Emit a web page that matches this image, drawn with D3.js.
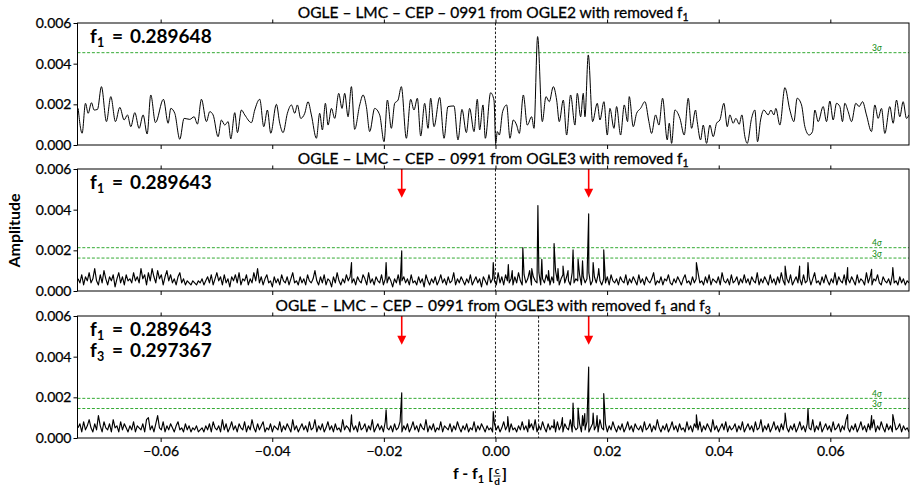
<!DOCTYPE html>
<html><head><meta charset="utf-8">
<script src="https://cdn.jsdelivr.net/npm/d3@7"></script>
<style>body{margin:0;background:#fff} text{font-family:Lato,"DejaVu Sans",sans-serif}</style>
</head><body><svg id="c" width="910" height="488"></svg>
<script>
// ---------------- data ----------------
const xTicks = [-0.06, -0.04, -0.02, 0.00, 0.02, 0.04, 0.06];
const yTicks = [0.000, 0.002, 0.004, 0.006];
const xDomain = [-0.0749, 0.0741];
const yDomain = [0, 0.006];
const titles = [
  ["OGLE \u2013 LMC \u2013 CEP \u2013 0991 from OGLE2 with removed f", "1", ""],
  ["OGLE \u2013 LMC \u2013 CEP \u2013 0991 from OGLE3 with removed f", "1", ""],
  ["OGLE \u2013 LMC \u2013 CEP \u2013 0991 from OGLE3 with removed f", "1", " and f", "3"]
];
const f1Values = [0.289648, 0.289643, 0.289643];
const f3Value = 0.297367;
const sigma3 = [0.00454, 0.00162, 0.00145];
const sigma4 = [null, 0.00213, 0.00195];
const arrowFreqs = [-0.0168, 0.0167];
const arrowTip = 0.00458;

// Panel 1 (OGLE2): frequency offset (x1e-3 c/d) and amplitude (x1e-4)
const ogle2FreqE3 = [-74.78,-74.07,-73.47,-72.99,-72.40,-71.92,-71.32,-70.61,-69.71,-68.93,-68.10,-67.32,-66.54,-65.95,-65.35,-64.63,-63.86,-63.14,-62.42,-61.77,-60.93,-59.50,-58.66,-58.18,-57.47,-56.57,-55.80,-54.78,-54.00,-53.41,-52.69,-51.80,-51.20,-50.60,-49.71,-49.11,-48.51,-47.91,-47.43,-46.72,-46.24,-45.53,-44.93,-43.73,-43.14,-42.24,-41.52,-40.87,-40.27,-39.26,-38.66,-38.06,-37.29,-36.57,-35.97,-35.50,-34.90,-34.18,-33.59,-32.99,-32.09,-31.50,-31.02,-30.48,-30.00,-29.40,-28.81,-28.09,-27.50,-27.02,-26.42,-25.82,-25.23,-24.33,-23.73,-23.14,-22.54,-21.65,-20.75,-19.97,-19.37,-18.66,-18.06,-17.46,-16.87,-15.97,-15.20,-14.60,-14.00,-13.40,-12.69,-12.09,-11.61,-11.02,-10.00,-9.22,-8.51,-7.43,-6.72,-6.00,-5.22,-4.63,-3.85,-3.26,-2.84,-2.24,-1.82,-0.87,-0.27,0.05,0.33,0.69,1.28,2.00,2.60,3.19,3.79,4.27,4.99,5.70,6.48,6.90,7.55,8.39,9.05,9.64,10.36,10.96,11.43,12.15,12.75,13.46,14.24,14.66,15.26,15.73,16.03,16.63,17.40,18.24,18.72,19.43,20.03,20.51,21.23,21.70,22.42,23.08,23.67,23.97,24.69,25.29,26.00,26.78,27.49,27.97,28.69,29.29,29.94,30.78,31.14,31.56,32.15,33.05,33.82,34.54,35.14,35.85,36.15,36.75,37.23,37.82,38.42,39.02,39.62,40.21,40.93,41.53,42.00,42.60,43.08,43.67,44.15,44.69,45.11,45.89,46.48,46.96,47.50,48.09,48.87,49.35,49.89,50.24,50.96,51.86,52.75,53.47,54.06,54.84,55.44,56.21,56.81,57.23,57.83,58.72,59.32,59.92,60.51,61.11,61.71,62.18,62.60,63.20,63.80,64.57,65.17,65.77,66.48,67.38,67.98,68.57,69.17,69.77,70.66,71.26,71.86,72.45,73.05,73.65,74.10];
const ogle2AmpE4 = [18.0,5.8,20.5,15.6,20.8,17.2,17.5,28.7,11.5,23.8,11.5,18.5,12.3,14.8,9.0,15.9,8.2,14.8,5.4,24.6,11.0,22.5,10.7,18.0,15.6,2.8,13.1,12.6,13.9,10.3,22.5,11.5,16.4,14.8,4.1,12.3,9.8,11.5,3.0,15.9,6.1,17.2,14.8,11.0,17.2,22.5,9.0,17.2,5.8,20.0,10.7,6.1,15.6,19.7,15.6,19.7,13.1,15.6,21.3,14.8,3.3,15.6,7.4,20.5,9.8,18.0,13.1,25.4,18.0,25.4,13.9,28.7,7.7,19.7,24.6,18.9,6.6,18.0,14.8,1.6,22.1,8.2,20.5,22.1,28.7,3.3,22.5,17.2,23.0,4.4,20.5,8.2,23.0,9.0,23.4,3.3,18.9,19.2,2.5,17.5,6.1,18.0,6.6,22.5,7.4,19.7,3.3,25.7,22.1,0.8,6.6,4.9,16.4,19.7,3.3,12.3,9.8,5.7,24.6,9.8,13.9,8.2,53.3,11.5,23.8,21.3,28.7,22.1,11.5,22.1,4.9,24.6,9.8,25.4,13.9,25.4,13.9,44.3,11.5,20.5,12.3,21.3,4.9,18.0,8.2,18.9,4.9,19.7,11.5,23.8,9.0,15.6,18.0,21.3,11.5,5.7,14.8,9.8,23.0,2.5,10.7,0.8,17.2,13.1,4.9,23.0,8.2,17.2,11.5,2.5,9.8,0.8,9.8,4.1,10.7,12.3,20.5,9.0,14.8,10.7,13.1,10.2,14.8,4.1,0.8,13.1,17.2,1.6,12.3,17.2,14.8,17.2,14.8,18.0,9.8,28.2,17.2,11.5,23.0,19.7,9.0,4.9,6.6,17.2,11.5,18.9,11.5,21.6,12.3,20.5,18.9,11.5,20.5,16.4,11.5,20.5,18.9,21.3,14.8,6.6,19.7,13.1,18.0,5.7,18.9,10.7,22.1,13.9,21.3,13.1,14.8];

// Panels 2 and 3 (OGLE3): noise amplitudes (x1e-4) on the periodogram's even frequency grid
const gridStart = -0.0748, gridEnd = 0.0741;
const ogle3aNoiseE4 = [
6,4,8,3,7,5,9,4,6,11,5,3,8,4,10,6,3,7,5,8,2,6,9,4,7,3,8,5,6,4,
9,5,7,4,11,6,8,3,9,5,11,7,4,10,6,8,3,7,10,5,8,4,6,3,7,9,4,6,3,5,
4,3,5,4,3,5,4,6,3,5,7,4,8,3,6,9,5,7,3,8,4,6,2,7,5,8,4,9,3,6,
5,8,3,6,4,9,5,11,4,7,3,6,8,4,5,2,7,4,6,3,8,5,4,7,3,6,9,4,5,3,
7,4,6,3,8,5,4,6,10,5,3,7,4,8,3,6,5,2,7,4,9,5,3,6,4,8,5,7,4,6,
3,7,5,4,8,6,3,9,4,6,3,7,5,4,8,3,6,4,7,5,2,6,4,8,3,5,7,4,6,3,
8,4,5,3,7,4,6,2,8,5,3,6,4,7,3,5,8,4,6,3,7,4,5,9,3,6,4,7,5,3,
6,4,8,3,5,7,4,6,2,7,5,3,8,4,6,5,3,9,4,7,3,8,5,4,6,3,7,4,9,5,
3,8,4,6,10,3,7,5,4,9,3,6,4,8,5,3,7,4,10,5,3,6,8,4,7,5,3,9,4,6,
5,8,3,7,4,6,9,3,5,7,4,8,5,3,6,4,7,3,8,5,4,6,3,7,5,4,8,3,6,4,
7,5,3,8,4,6,3,7,5,4,6,9,3,5,4,7,3,6,5,8,4,3,6,4,7,5,3,6,8,4,
5,3,7,4,6,9,4,5,3,7,4,8,3,6,5,4,7,3,9,5,4,6,3,8,4,5,7,3,6,4,
8,4,6,3,7,5,4,9,3,6,4,7,5,3,8,4,6,3,7,4,9,5,3,6,4,8,3,5,7,4,
6,3,8,4,5,7,3,6,9,4,5,3,7,4,8,5,3,6,4,9,3,7,5,4,8,3,6,4,7,5,
3,8,4,6,5,3,9,4,7,3,6,5,8,4,3,7,5,4,6,3,8,4,5,3,7,4,6,3,5,4];
const ogle3aPeakFreqE3 = [-25.8,-19.6,-16.8,-0.4,2.3,3.0,4.9,6.5,7.6,8.3,9.5,10.5,11.2,12.1,13.0,13.9,14.8,15.6,16.7,17.5,18.5,19.4,36.0,51.9,54.5,56.0,63.1,67.4,71.2];
const ogle3aPeakAmpE4 = [14.0,14.0,19.7,14.0,13.0,10.0,21.3,11.0,42.0,15.6,10.0,23.3,11.0,12.3,10.0,20.2,15.6,14.8,37.9,14.0,11.0,20.2,14.0,12.3,12.3,14.0,11.5,10.7,11.5];

const ogle3bNoiseE4 = [
5,7,3,8,4,6,9,5,3,7,4,11,6,3,8,5,4,7,3,9,5,6,3,8,4,7,5,3,6,4,
8,3,6,5,4,7,3,9,10,4,6,3,7,11,5,4,8,3,6,4,7,5,3,6,8,4,5,3,7,4,
6,3,5,4,6,3,4,5,3,6,4,7,3,8,5,4,6,3,9,4,7,3,5,8,4,6,3,7,5,4,
8,3,6,4,9,5,3,7,4,6,8,3,5,4,7,3,6,5,4,8,3,6,4,7,5,3,9,4,6,3,
5,7,4,6,3,8,4,5,9,3,6,4,7,3,5,8,4,6,3,7,4,5,3,9,4,6,5,3,7,4,
6,3,8,4,5,7,3,6,4,9,3,5,7,4,6,3,8,5,4,6,3,7,4,5,8,3,6,4,7,3,
5,8,4,6,3,7,5,4,9,3,6,4,7,3,5,4,8,3,6,5,4,7,3,6,4,8,5,3,6,4,
7,3,5,4,8,3,6,4,7,5,3,6,4,5,3,7,4,6,3,5,8,4,6,3,7,4,5,3,6,4,
8,4,6,3,5,7,4,9,3,6,4,8,5,3,7,4,6,5,3,8,4,6,3,7,5,4,9,3,6,4,
5,7,3,6,4,8,3,5,7,4,6,3,9,5,4,7,3,6,4,8,5,3,6,4,7,3,5,8,4,6,
3,7,5,4,6,3,8,4,5,7,3,6,4,9,5,3,6,4,7,3,5,8,4,6,3,7,4,5,3,8,
4,6,3,7,5,4,8,3,6,4,7,5,3,9,4,6,3,5,7,4,8,3,6,4,5,7,3,6,4,8,
3,5,7,4,6,3,8,4,5,9,3,6,4,7,3,5,8,4,6,3,7,4,9,5,3,6,4,7,3,5,
8,4,6,3,7,5,4,9,3,6,4,8,3,5,7,4,6,3,8,4,5,7,3,6,4,9,5,3,6,4,
7,3,5,8,4,6,3,7,4,5,9,3,6,4,8,5,3,7,4,6,3,8,4,5,7,3,6,4,5,3];
const ogle3bPeakFreqE3 = [-25.8,-19.6,-16.8,-0.4,2.2,6.0,10.5,12.0,13.9,14.8,15.6,16.0,16.7,17.5,18.2,19.4,36.0,51.9,56.0,63.1,67.4,71.2];
const ogle3bPeakAmpE4 = [11.4,13.9,22.2,13.0,10.5,9.0,9.0,10.0,17.2,14.7,11.0,12.0,34.9,12.2,11.0,21.8,11.4,12.2,14.4,11.5,11.0,11.5];

// ---------------- drawing ----------------
const svg = d3.select('#c');
const left = 77.5, right = 909;
const tops = [23, 169, 316], ph = 122;
const x = d3.scaleLinear().domain(xDomain).range([left, right]);

function buildSpectrum(noise, pkF, pkA) {
  const n = noise.length;
  const pts = noise.map((a, i) => [gridStart + i * (gridEnd - gridStart) / (n - 1), a * 1e-4]);
  pkF.forEach((f, i) => pts.push([f * 1e-3, pkA[i] * 1e-4]));
  pts.sort((a, b) => a[0] - b[0]);
  return pts;
}
const series = [
  ogle2FreqE3.map((f, i) => [f * 1e-3, ogle2AmpE4[i] * 1e-4]),
  buildSpectrum(ogle3aNoiseE4, ogle3aPeakFreqE3, ogle3aPeakAmpE4),
  buildSpectrum(ogle3bNoiseE4, ogle3bPeakFreqE3, ogle3bPeakAmpE4)
];

tops.forEach((top, p) => {
  const y = d3.scaleLinear().domain(yDomain).range([top + ph, top]);
  const g = svg.append('g');
  const clipId = 'clip' + p;
  g.append('clipPath').attr('id', clipId).append('rect')
    .attr('x', left).attr('y', top).attr('width', right - left).attr('height', ph);

  // sigma thresholds
  const thr = [];
  if (sigma4[p] !== null) thr.push([sigma4[p], '4']);
  thr.push([sigma3[p], '3']);
  thr.forEach(([v, lab]) => {
    g.append('line').attr('x1', left).attr('x2', right).attr('y1', y(v)).attr('y2', y(v))
      .attr('stroke', '#33aa33').attr('stroke-width', 1).attr('stroke-dasharray', '3,1.8');
    const t = g.append('text').attr('x', 872).attr('y', y(v) - 1.5)
      .attr('font-size', 8.5).attr('fill', '#0a8a0a');
    t.append('tspan').text(lab);
    t.append('tspan').attr('font-style', 'italic').text('\u03c3');
  });

  // vertical dashed lines
  const vlines = [0];
  if (p === 2) vlines.push(f3Value - f1Values[p]);
  vlines.forEach(v => {
    g.append('line').attr('x1', x(v)).attr('x2', x(v)).attr('y1', top).attr('y2', top + ph)
      .attr('stroke', '#000').attr('stroke-width', 0.9).attr('stroke-dasharray', '2.5,1.8');
  });

  // spectrum
  const line = d3.line().x(d => x(d[0])).y(d => y(d[1]))
    .curve(p === 0 ? d3.curveMonotoneX : d3.curveLinear);
  g.append('path').datum(series[p]).attr('d', line).attr('fill', 'none')
    .attr('stroke', '#000').attr('stroke-width', p === 0 ? 1 : 1.15)
    .attr('stroke-linejoin', 'round').attr('clip-path', `url(#${clipId})`);

  // red arrows
  if (p > 0) {
    arrowFreqs.forEach(f => {
      const ax = x(f), y0 = y(yDomain[1]), yt = y(arrowTip);
      g.append('line').attr('x1', ax).attr('x2', ax).attr('y1', y0).attr('y2', yt - 7)
        .attr('stroke', '#ff0000').attr('stroke-width', 1.6);
      g.append('path').attr('d', `M${ax - 4.5},${yt - 9}L${ax + 4.5},${yt - 9}L${ax},${yt}Z`)
        .attr('fill', '#ff0000');
    });
  }

  // axes
  const yAxis = d3.axisLeft(y).tickValues(yTicks).tickSize(4).tickPadding(2).tickFormat(d3.format('.3f'));
  const ya = g.append('g').attr('transform', `translate(${left},0)`).call(yAxis);
  const xb = d3.axisBottom(x).tickValues(xTicks).tickSize(4).tickPadding(4)
    .tickFormat(p === 2 ? d3.format('.2f') : () => '');
  const xa = g.append('g').attr('transform', `translate(0,${top + ph})`).call(xb);
  const xt = g.append('g').attr('transform', `translate(0,${top})`)
    .call(d3.axisTop(x).tickValues(xTicks).tickSize(3.5).tickFormat(() => ''));
  [ya, xa, xt].forEach(a => {
    a.select('.domain').remove();
    a.selectAll('line').attr('stroke', '#000').attr('stroke-width', 1);
    a.selectAll('text').attr('font-family', 'Lato, sans-serif').attr('font-size', 14)
      .attr('fill', '#000').attr('stroke', '#000').attr('stroke-width', 0.25);
  });

  // frame
  g.append('rect').attr('x', left).attr('y', top).attr('width', right - left).attr('height', ph)
    .attr('fill', 'none').attr('stroke', '#000').attr('stroke-width', 1);

  // title
  const tt = titles[p];
  const title = g.append('text').attr('x', (left + right) / 2).attr('y', top - 5.5)
    .attr('text-anchor', 'middle').attr('font-size', 15.5).attr('fill', '#000')
    .attr('stroke', '#000').attr('stroke-width', 0.3);
  title.append('tspan').text(tt[0]);
  title.append('tspan').attr('font-size', 10.5).attr('dy', 3.5).text(tt[1]);
  if (tt.length > 3) {
    title.append('tspan').attr('dy', -3.5).text(tt[2]);
    title.append('tspan').attr('font-size', 10.5).attr('dy', 3.5).text(tt[3]);
  }

  // annotations
  const ann = [['1', f1Values[p]]];
  if (p === 2) ann.push(['3', f3Value]);
  ann.forEach(([sub, val], k) => {
    const by = top + 19.5 + k * 21;
    const st = s => s.attr('font-weight', 'bold').attr('fill', '#000');
    st(g.append('text').attr('x', 90).attr('y', by).attr('font-size', 19).text('f'));
    st(g.append('text').attr('x', 97).attr('y', by + 4).attr('font-size', 12.5).text(sub));
    st(g.append('text').attr('x', 112).attr('y', by).attr('font-size', 19).text('='));
    st(g.append('text').attr('x', 130).attr('y', by).attr('font-size', 19).text(d3.format('.6f')(val)));
  });
});

// y label
svg.append('text').attr('transform', 'translate(20,230.5) rotate(-90)').attr('text-anchor', 'middle')
  .attr('font-size', 16).attr('font-weight', 'bold').text('Amplitude');

// x label: f - f1 [c/d]
const xl = svg.append('g');
const lbY = 479;
const t1 = xl.append('text').attr('x', 0).attr('y', lbY).attr('font-size', 16).attr('font-weight', 'bold');
t1.append('tspan').text('f - f');
t1.append('tspan').attr('font-size', 11).attr('dy', 3.5).text('1');
t1.append('tspan').attr('dy', -3.5).text(' [');
const w1 = t1.node().getComputedTextLength();
const fx = w1 + 4;
xl.append('text').attr('x', fx).attr('y', lbY - 5).attr('text-anchor', 'middle').attr('font-size', 10).attr('font-weight', 'bold').text('c');
xl.append('line').attr('x1', fx - 3.5).attr('x2', fx + 3.5).attr('y1', lbY - 3).attr('y2', lbY - 3).attr('stroke', '#000').attr('stroke-width', 0.9);
xl.append('text').attr('x', fx).attr('y', lbY + 6).attr('text-anchor', 'middle').attr('font-size', 10).attr('font-weight', 'bold').text('d');
xl.append('text').attr('x', fx + 5).attr('y', lbY).attr('font-size', 16).attr('font-weight', 'bold').text(']');
const totalW = fx + 10;
xl.attr('transform', `translate(${480 - totalW / 2},0)`);
</script>
</body></html>
